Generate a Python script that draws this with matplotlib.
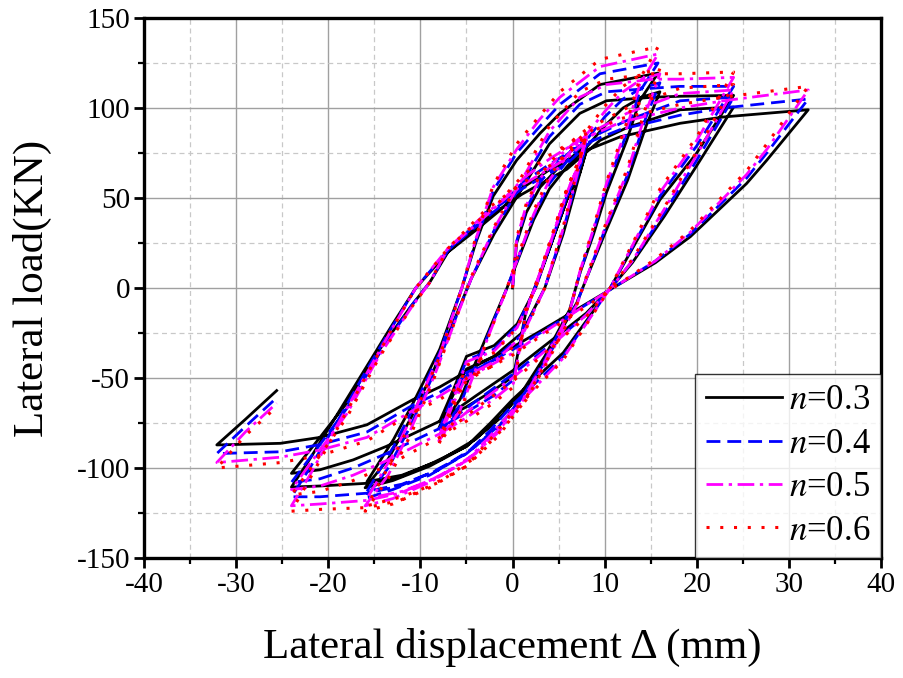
import matplotlib
matplotlib.use("Agg")
import matplotlib.pyplot as plt
from matplotlib.ticker import MultipleLocator

plt.rcParams['font.family'] = ['Liberation Serif', 'DejaVu Serif']
plt.rcParams['mathtext.fontset'] = 'stix'
plt.rcParams['axes.unicode_minus'] = False

# lateral displacement (mm) along the loading path
disp = [0, 0.45, 1.5, 3, 5, 7, 8, 7.3, 5.9, 4.1, 2.5, 0.5, -2, -5, -6.3, -7.9,
        -5, -2.1, 0.1, 1.5, 4.1, 5.9, 7.3, 8, 7, 5.5, 3.5, 1, -2, -5, -6.5, -8,
        -5.7, -2.1, -0.6, 2.3, 4, 6, 8, 10, 12, 14, 16, 14.5, 12.5, 10, 8, 7,
        4, 1.5, -1, -4, -8, -12, -15.8, -12.9, -10.8, -7.9, -5.5, -4, -2.1, 0.45,
        3, 5.15, 9.5, 15.8, 13.8, 12.4, 10.2, 8.8, 7.3, 6.2, 3.5, 1, -1.5, -5,
        -9, -13, -16, -13.5, -11, -8.5, -6.5, -4.5, -2, 1, 4, 7.3, 10.2, 15.3,
        18.2, 24, 20, 16, 10.6, 5.5, 0, -2.4, -5, -8.6, -12.2, -15.8, -20.9, -24,
        -22, -19, -16, -13, -10.5, -7, -3, 1, 5.9, 9.5, 12.4, 18.2, 24, 20,
        16.5, 13, 11, 8, 4, 0, -4, -7.9, -13.7, -17.3, -20.9, -24, -20.9, -18,
        -14.4, -11, -9, -7, -4, -1.4, 1.2, 4.1, 7.3, 11.7, 18.2, 22.9, 32.1, 27.6,
        25.4, 19.3, 15.5, 10.9, 8.4, 3, 0.1, -3.5, -7.9, -10.8, -15.8, -20.9, -25.2, -32.1,
        -29, -25.6]

# lateral load (kN) for each axial load ratio n
load_03 = [0, 25, 42, 56, 67, 75, 79, 64, 49, 23, 0, -20, -32, -38, -55, -74,
           -66, -57, -49, -12, 23, 49, 64, 76, 58, 30, 0, -25, -38, -45, -60, -78,
           -62, -18, 0, 38, 55, 68, 78, 90, 100, 106, 109, 90, 60, 30, 5, -8,
           -35, -55, -70, -84, -96, -104, -107.6, -84, -64, -34, 0, 25, 51, 71,
           86, 97, 113, 119.4, 104, 82, 53, 30, 8, -12, -38, -58, -73, -88,
           -99, -107, -111, -95, -72, -45, -20, 5, 30, 55, 80, 97, 104, 106,
           106.5, 107, 75, 49, 0, -36, -62, -75, -88, -97, -105, -108.5, -110, -110.6,
           -95, -70, -45, -20, 0, 20, 38, 52, 66, 82, 89, 99, 100.5, 68,
           40, 14, 2, -14, -30, -46, -60, -74, -88, -95.5, -101, -103, -83, -64,
           -34, -10, 3, 20, 32, 43, 56, 66, 75, 84, 91.5, 95, 99, 71,
           58, 28.5, 14, 0, -7.6, -24, -32.6, -42, -55, -62, -76, -83, -86.3, -87.2,
           -73, -57]

load_04 = [0, 26, 44, 59, 70, 79, 83, 67, 51, 24, 0, -21, -34, -40, -58, -78,
           -69, -60, -51, -13, 24, 51, 67, 80, 61, 32, 0, -26, -40, -47, -63, -82,
           -65, -19, 0, 40, 58, 71, 82, 95, 105, 111, 114, 95, 63, 32, 5, -8,
           -37, -58, -74, -88, -101, -109, -113, -88, -67, -36, 0, 26, 54, 75,
           90, 102, 119, 125, 109, 86, 56, 32, 8, -13, -40, -61, -77, -92,
           -104, -112, -117, -100, -76, -47, -21, 5, 32, 58, 84, 102, 109, 111,
           112, 112, 79, 51, 0, -38, -65, -79, -92, -102, -110, -114, -116, -116,
           -100, -74, -47, -21, 0, 21, 40, 55, 69, 86, 93, 104, 106, 71,
           42, 15, 2, -15, -32, -48, -63, -78, -92, -100, -106, -108, -87, -67,
           -36, -10, 3, 21, 34, 45, 59, 69, 79, 88, 96, 100, 105, 75,
           61, 30, 15, 0, -8, -25, -34, -44, -58, -65, -80, -87, -91, -92,
           -77, -61]

load_05 = [0, 27, 46, 61, 73, 82, 86, 70, 53, 25, 0, -22, -35, -41, -60, -81,
           -72, -62, -53, -13, 25, 53, 70, 83, 63, 33, 0, -27, -41, -49, -65, -85,
           -68, -20, 0, 41, 60, 74, 85, 98, 109, 116, 119, 98, 65, 33, 5, -9,
           -38, -60, -76, -92, -105, -113, -117, -92, -70, -37, 0, 27, 56, 77,
           94, 106, 123, 130, 113, 89, 58, 33, 9, -13, -41, -63, -80, -96,
           -108, -117, -121, -104, -78, -49, -22, 5, 33, 60, 87, 106, 113, 116,
           116, 117, 82, 53, 0, -39, -68, -82, -96, -106, -114, -118, -120, -121,
           -104, -76, -49, -22, 0, 22, 41, 57, 72, 89, 97, 108, 110, 74,
           44, 15, 2, -15, -33, -50, -65, -81, -96, -104, -110, -112, -90, -70,
           -37, -11, 3, 22, 35, 47, 61, 72, 82, 92, 100, 104, 110, 77,
           63, 31, 15, 0, -8, -26, -36, -46, -60, -68, -83, -90, -94, -97,
           -80, -64]

load_06 = [0, 28, 47, 63, 75, 84, 88, 72, 55, 26, 0, -22, -36, -43, -62, -83,
           -74, -64, -55, -13, 26, 55, 72, 85, 65, 34, 0, -28, -43, -50, -67, -87,
           -69, -20, 0, 43, 62, 76, 87, 101, 112, 119, 122, 101, 67, 34, 6, -9,
           -39, -62, -78, -94, -108, -116, -121, -94, -72, -38, 0, 28, 57, 80,
           96, 109, 127, 134, 116, 92, 59, 34, 9, -13, -43, -65, -82, -99,
           -111, -120, -124, -106, -81, -50, -22, 6, 34, 62, 90, 109, 116, 119,
           119, 120, 84, 55, 0, -40, -69, -84, -99, -109, -118, -122, -123, -124,
           -106, -78, -50, -22, 0, 22, 43, 58, 74, 92, 100, 111, 113, 76,
           45, 16, 2, -16, -34, -52, -67, -83, -99, -107, -113, -115, -93, -72,
           -38, -11, 3, 22, 36, 48, 63, 74, 84, 94, 102, 106, 112, 80,
           65, 32, 16, 0, -9, -27, -37, -47, -62, -69, -85, -93, -97, -100,
           -82, -66]

fig = plt.figure(figsize=(9.04, 6.78), dpi=100)
ax = fig.add_axes([0.1593, 0.177, 0.8153, 0.7965])

ax.plot(disp, load_03, color='black', lw=2.0, ls='-', label=r'$n$=0.3', zorder=3)
ax.plot(disp, load_04, color='#0000ff', lw=2.0, ls=(0, (5, 2.5)), label=r'$n$=0.4', zorder=4)
ax.plot(disp, load_05, color='#ff00ff', lw=2.0, ls=(0, (6, 2, 1.2, 2)), label=r'$n$=0.5', zorder=5)
ax.plot(disp, load_06, color='#ff0000', lw=2.2, ls=(0, (1, 3.5)), label=r'$n$=0.6', zorder=6)

ax.set_xlim(-40, 40)
ax.set_ylim(-150, 150)
ax.xaxis.set_major_locator(MultipleLocator(10))
ax.xaxis.set_minor_locator(MultipleLocator(5))
ax.yaxis.set_major_locator(MultipleLocator(50))
ax.yaxis.set_minor_locator(MultipleLocator(25))

ax.grid(True, which='major', color='#a0a0a0', lw=1.0, ls='-')
ax.grid(True, which='minor', color='#c8c8c8', lw=0.9, ls=(0, (4, 3)))
ax.set_axisbelow(True)

for sp in ax.spines.values():
    sp.set_linewidth(2.4)
ax.tick_params(which='major', direction='out', length=7, width=2, labelsize=21, pad=3)
ax.tick_params(which='minor', direction='out', length=4, width=1.6)

ax.set_xlabel('Lateral displacement Δ (mm)', fontsize=31, labelpad=22)
ax.set_ylabel('Lateral load(KN)', fontsize=31, labelpad=18)

leg = ax.legend(loc='lower right', fontsize=25, frameon=True, fancybox=False,
                borderaxespad=0, handlelength=2.2, handletextpad=0.2,
                labelspacing=0.3, borderpad=0.3)
leg.get_frame().set_edgecolor('black')
leg.get_frame().set_linewidth(1.0)

fig.savefig('out.png', dpi=100)
